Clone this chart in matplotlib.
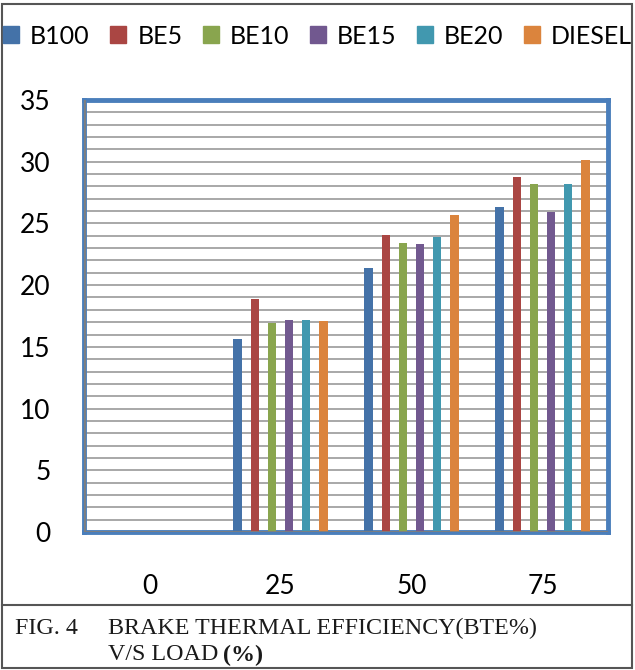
import numpy as np
import matplotlib.pyplot as plt
from matplotlib.patches import Rectangle
from matplotlib.lines import Line2D

loads = ["0", "25", "50", "75"]
series = ["B100", "BE5", "BE10", "BE15", "BE20", "DIESEL"]
b100 = [0, 15.6, 21.4, 26.3]
be5 = [0, 18.9, 24.1, 28.8]
be10 = [0, 16.9, 23.4, 28.2]
be15 = [0, 17.2, 23.3, 25.9]
be20 = [0, 17.2, 23.9, 28.2]
diesel = [0, 17.1, 25.7, 30.1]
colors = ["#4472a8", "#aa4643", "#89a54e", "#71588f", "#4198af", "#db843d"]

values = [b100, be5, be10, be15, be20, diesel]

fig = plt.figure(figsize=(6.35, 6.70), dpi=100)
ax = fig.add_axes([84 / 635, 1 - 532 / 670, 524 / 635, 432 / 670])

x = np.arange(len(loads))
step = 0.131
for i, (name, vals) in enumerate(zip(series, values)):
    ax.bar(x + (i - 2.5) * step, vals, width=0.064, color=colors[i], label=name, zorder=3)

ax.set_xlim(-0.5, 3.5)
ax.set_ylim(0, 35)
ax.set_yticks(range(0, 36, 5))
ax.set_yticks(range(0, 36), minor=True)
ax.xaxis.grid(False)
ax.yaxis.grid(True, which="both", color="#a8a8a8", lw=1.4, zorder=0)
ax.tick_params(axis="y", which="both", length=0, labelsize=19, pad=24)
ax.set_xticks(x)
ax.set_xticklabels(loads)
ax.tick_params(axis="x", length=0, labelsize=19, pad=30)
for lab in ax.get_xticklabels() + ax.get_yticklabels():
    lab.set_family("Lato")

for s in ax.spines.values():
    s.set_color("#4a7ebb")
    s.set_linewidth(3.5)
ax.axhline(0, color="#7f7f7f", lw=2, zorder=4)
ax.axvline(-0.5, color="#7f7f7f", lw=2, zorder=4)

handles = [Rectangle((0, 0), 1, 1, color=c) for c in colors]
fig.legend(handles, series, loc="center", bbox_to_anchor=(0.5, 1 - 36 / 670),
           ncol=6, frameon=False, prop={"family": "Lato", "size": 18},
           handlelength=0.65, handleheight=0.65, handletextpad=0.45, columnspacing=0.8,
           borderpad=0, borderaxespad=0)

# outer frame and caption box
fig.add_artist(Rectangle((2 / 635, 2 / 670), 630 / 635, 664 / 670, transform=fig.transFigure,
                         fill=False, ec="#555555", lw=1.5))
fig.add_artist(Line2D([2 / 635, 632 / 635], [1 - 605 / 670] * 2, transform=fig.transFigure,
                      color="#555555", lw=1.5))

cap = dict(family="Liberation Serif", size=17.3, va="center", color="#1a1a1a")
fig.text(15 / 635, 1 - 628 / 670, "FIG. 4", **cap)
fig.text(108 / 635, 1 - 628 / 670, "BRAKE THERMAL EFFICIENCY(BTE%)", **cap)
t = fig.text(108 / 635, 1 - 655 / 670, "V/S LOAD", **cap)
fig.canvas.draw()
ext = t.get_window_extent()
fig.text((ext.x1 + 5) / fig.bbox.width, 1 - 655 / 670, "(%)", weight="bold", **cap)

fig.savefig("out.png", dpi=100)
